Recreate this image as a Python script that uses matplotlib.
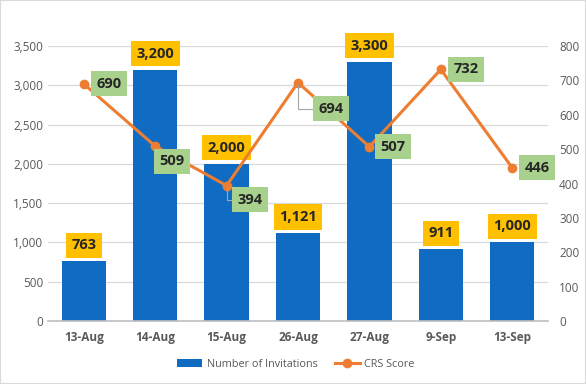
import matplotlib.pyplot as plt
import numpy as np

plt.rcParams['font.family'] = ['Open Sans', 'DejaVu Sans']

dates = ['13-Aug', '14-Aug', '15-Aug', '26-Aug', '27-Aug', '9-Sep', '13-Sep']
invitations = [763, 3200, 2000, 1121, 3300, 911, 1000]
crs = [690, 509, 394, 694, 507, 732, 446]

# label offsets (points) for the crs labels, some with leader lines
crs_off = [(18, 0), (12, -11), (17, -10), (24, -19), (17, 0), (18, 0), (18, 0)]
crs_leader = [False, False, True, True, False, False, False]

fig = plt.figure(figsize=(5.86, 3.84), dpi=100)
ax = fig.add_axes([0.082, 0.164, 0.853, 0.716])
ax2 = ax.twinx()

x = np.arange(len(dates))
ax.bar(x, invitations, width=0.62, color='#0F6CC2', zorder=2, label='Number of Invitations')
ax.set_ylim(0, 3500)
ax.set_yticks(np.arange(0, 3501, 500))
ax.set_yticklabels([f'{v:,}' for v in range(0, 3501, 500)])
ax.set_xlim(-0.5, len(dates) - 0.5)
ax.set_xticks(x)
ax.set_xticklabels(dates, fontweight='bold')
ax.grid(axis='y', color='#D9D9D9', lw=0.9, zorder=0)
ax.set_axisbelow(True)

ax2.plot(x, crs, color='#ED7D31', lw=2.2, marker='o', ms=6, zorder=3, label='CRS Score')
ax2.set_ylim(0, 800)
ax2.set_yticks(np.arange(0, 801, 100))

for a in (ax, ax2):
    for s in a.spines.values():
        s.set_visible(False)
    a.tick_params(length=0, labelsize=8.5, labelcolor='#595959')
ax.spines['bottom'].set_visible(True)
ax.spines['bottom'].set_color('#BFBFBF')
ax.spines['bottom'].set_linewidth(1.2)
ax.tick_params(axis='x', pad=7)
ax2.tick_params(axis='y', pad=8)

for xi, v in zip(x, invitations):
    ax.annotate(f'{v:,}', (xi, v), xytext=(0, 11.5), textcoords='offset points',
                ha='center', va='center', fontsize=10.5, fontweight='bold', color='#262626',
                bbox=dict(boxstyle='square,pad=0.38', fc='#FFC000', ec='none'), zorder=5)

for xi, v, off, ld in zip(x, crs, crs_off, crs_leader):
    ap = None
    if ld:
        ap = dict(arrowstyle='-', color='#A6A6A6', lw=0.8, shrinkA=0, shrinkB=2,
                  connectionstyle='angle,angleA=0,angleB=90,rad=0')
    ax2.annotate(f'{v}', (xi, v), xytext=off, textcoords='offset points',
                 ha='center', va='center', fontsize=10.5, fontweight='bold', color='#262626',
                 bbox=dict(boxstyle='square,pad=0.38', fc='#A9D18E', ec='none'),
                 arrowprops=ap, zorder=6)

h1, l1 = ax.get_legend_handles_labels()
h2, l2 = ax2.get_legend_handles_labels()
fig.legend(h1 + h2, l1 + l2, loc='center', bbox_to_anchor=(0.505, 0.052), ncol=2,
           frameon=False, fontsize=7.8, labelcolor='#595959', handlelength=2.3,
           columnspacing=1.6, handletextpad=0.4)

fig.patches.append(plt.Rectangle((0, 0), 1, 1, transform=fig.transFigure,
                                 fill=False, ec='#D9D9D9', lw=1.5))
fig.savefig('out.png', dpi=100)
